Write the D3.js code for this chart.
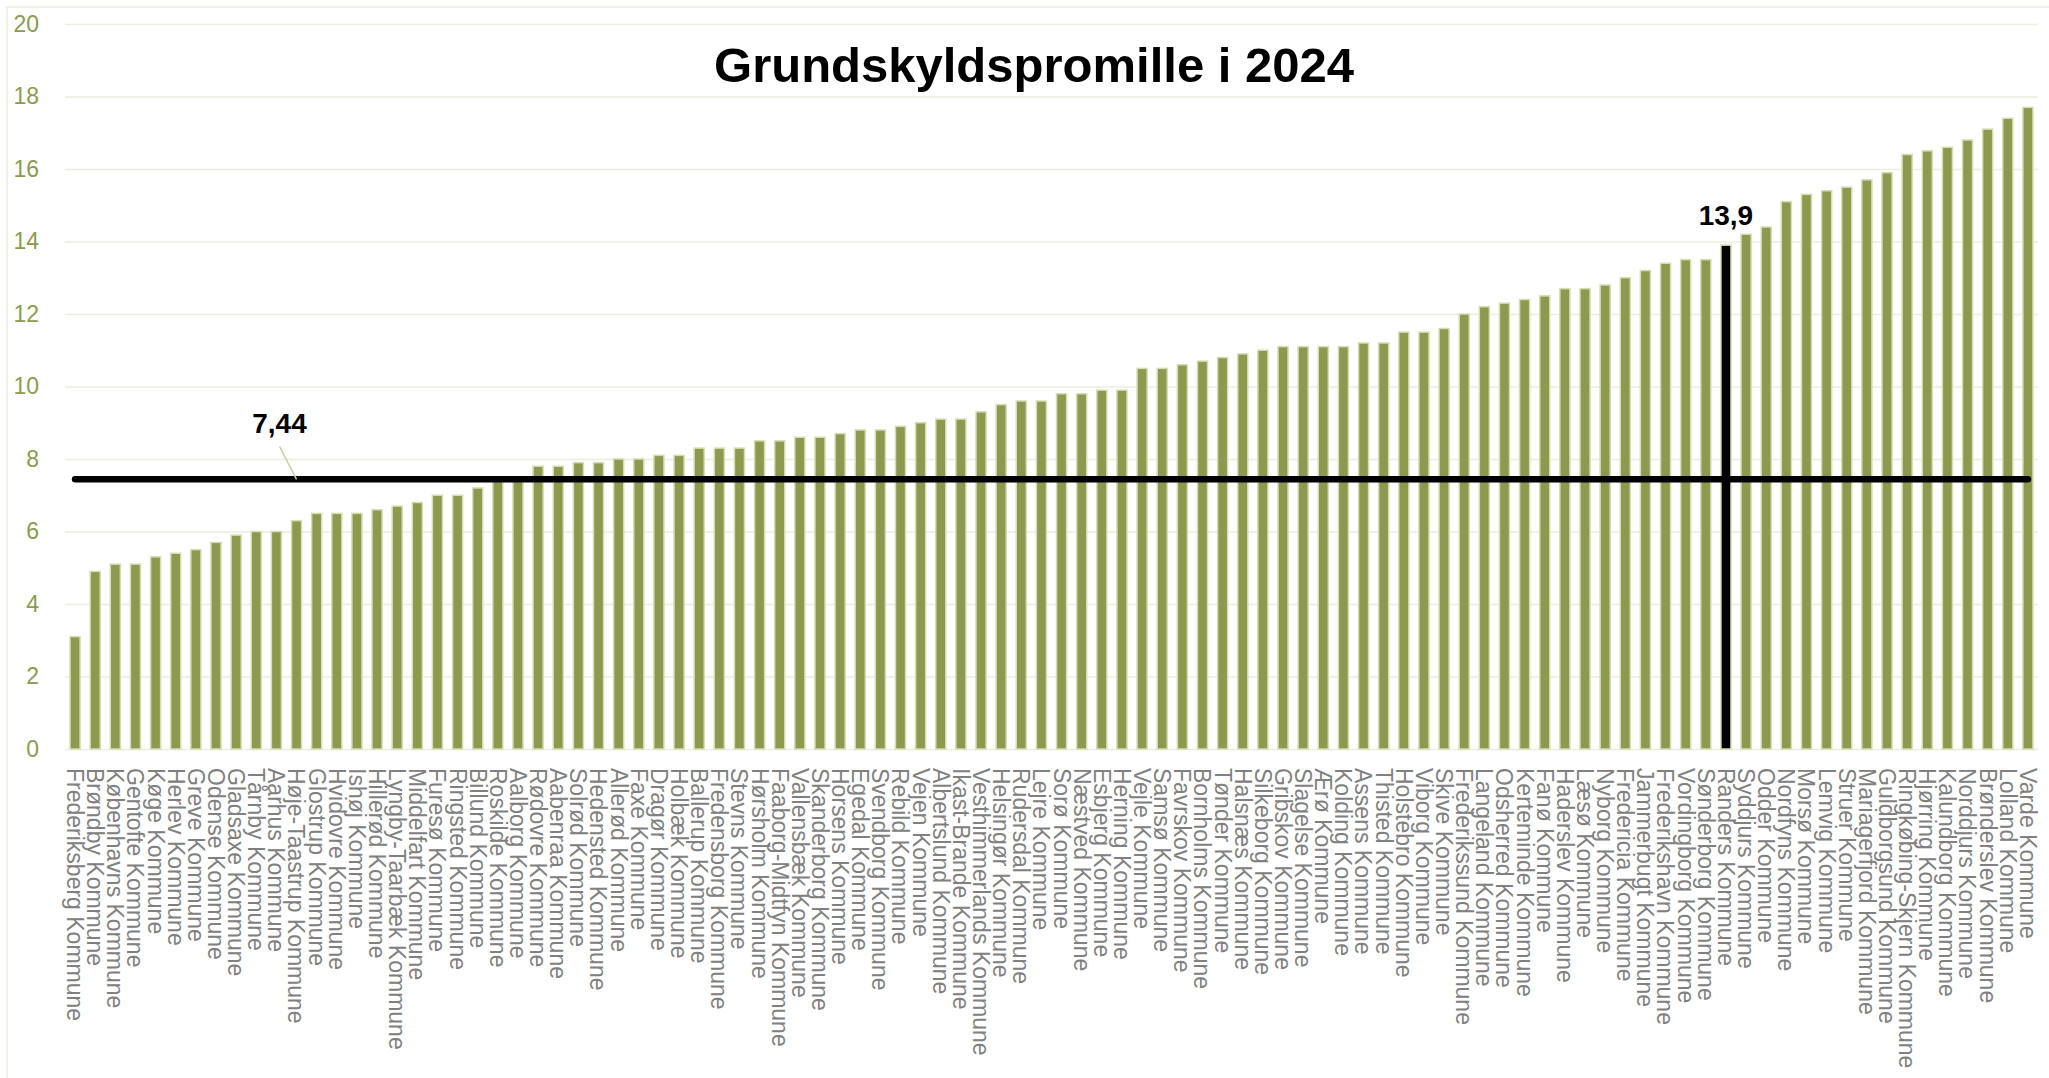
<!DOCTYPE html>
<html>
<head>
<meta charset="utf-8">
<title>Grundskyldspromille i 2024</title>
<script src="https://cdn.jsdelivr.net/npm/d3@7"></script>
<style>
  html, body { margin: 0; padding: 0; background: #fff; }
  svg { display: block; }
</style>
</head>
<body>
<div id="chart"></div>
<script>
// Kommuner, sorteret efter grundskyldspromille
var kommuner = [
  "Frederiksberg Kommune", "Brøndby Kommune", "Københavns Kommune", "Gentofte Kommune",
  "Køge Kommune", "Herlev Kommune", "Greve Kommune", "Odense Kommune", "Gladsaxe Kommune",
  "Tårnby Kommune", "Aarhus Kommune", "Høje-Taastrup Kommune", "Glostrup Kommune",
  "Hvidovre Kommune", "Ishøj Kommune", "Hillerød Kommune", "Lyngby-Taarbæk Kommune",
  "Middelfart Kommune", "Furesø Kommune", "Ringsted Kommune", "Billund Kommune",
  "Roskilde Kommune", "Aalborg Kommune", "Rødovre Kommune", "Aabenraa Kommune",
  "Solrød Kommune", "Hedensted Kommune", "Allerød Kommune", "Faxe Kommune", "Dragør Kommune",
  "Holbæk Kommune", "Ballerup Kommune", "Fredensborg Kommune", "Stevns Kommune",
  "Hørsholm Kommune", "Faaborg-Midtfyn Kommune", "Vallensbæk Kommune", "Skanderborg Kommune",
  "Horsens Kommune", "Egedal Kommune", "Svendborg Kommune", "Rebild Kommune", "Vejen Kommune",
  "Albertslund Kommune", "Ikast-Brande Kommune", "Vesthimmerlands Kommune", "Helsingør Kommune",
  "Rudersdal Kommune", "Lejre Kommune", "Sorø Kommune", "Næstved Kommune", "Esbjerg Kommune",
  "Herning Kommune", "Vejle Kommune", "Samsø Kommune", "Favrskov Kommune", "Bornholms Kommune",
  "Tønder Kommune", "Halsnæs Kommune", "Silkeborg Kommune", "Gribskov Kommune",
  "Slagelse Kommune", "Ærø Kommune", "Kolding Kommune", "Assens Kommune", "Thisted Kommune",
  "Holstebro Kommune", "Viborg Kommune", "Skive Kommune", "Frederikssund Kommune",
  "Langeland Kommune", "Odsherred Kommune", "Kerteminde Kommune", "Fanø Kommune",
  "Haderslev Kommune", "Læsø Kommune", "Nyborg Kommune", "Fredericia Kommune",
  "Jammerbugt Kommune", "Frederikshavn Kommune", "Vordingborg Kommune", "Sønderborg Kommune",
  "Randers Kommune", "Syddjurs Kommune", "Odder Kommune", "Nordfyns Kommune", "Morsø Kommune",
  "Lemvig Kommune", "Struer Kommune", "Mariagerfjord Kommune", "Guldborgsund Kommune",
  "Ringkøbing-Skjern Kommune", "Hjørring Kommune", "Kalundborg Kommune", "Norddjurs Kommune",
  "Brønderslev Kommune", "Lolland Kommune", "Varde Kommune"
];

// Grundskyldspromille 2024 (aflæst)
var promille = [
  3.1, 4.9, 5.1, 5.1, 5.3, 5.4, 5.5, 5.7, 5.9, 6.0, 6.0, 6.3, 6.5, 6.5, 6.5, 6.6, 6.7, 6.8,
  7.0, 7.0, 7.2, 7.4, 7.4, 7.8, 7.8, 7.9, 7.9, 8.0, 8.0, 8.1, 8.1, 8.3, 8.3, 8.3, 8.5, 8.5,
  8.6, 8.6, 8.7, 8.8, 8.8, 8.9, 9.0, 9.1, 9.1, 9.3, 9.5, 9.6, 9.6, 9.8, 9.8, 9.9, 9.9,
  10.5, 10.5, 10.6, 10.7, 10.8, 10.9, 11.0, 11.1, 11.1, 11.1, 11.1, 11.2, 11.2, 11.5, 11.5,
  11.6, 12.0, 12.2, 12.3, 12.4, 12.5, 12.7, 12.7, 12.8, 13.0, 13.2, 13.4, 13.5, 13.5,
  13.9, 14.2, 14.4, 15.1, 15.3, 15.4, 15.5, 15.7, 15.9, 16.4, 16.5, 16.6, 16.8, 17.1,
  17.4, 17.7
];

var gennemsnit = 7.44;
var gennemsnitLabel = "7,44";
var fremhaevet = "Randers Kommune";
var fremhaevetLabel = "13,9";
var yTicks = [0, 2, 4, 6, 8, 10, 12, 14, 16, 18, 20];
var titel = "Grundskyldspromille i 2024";

document.addEventListener("DOMContentLoaded", function() {

var W = 2049, H = 1078;
var margin = {top: 24, right: 11, bottom: 329, left: 65},
    width = W - margin.left - margin.right,
    height = H - margin.top - margin.bottom;

var font = "'Liberation Sans', Arial, sans-serif";

var root = d3.select("#chart")
  .append("svg")
  .attr("width", W)
  .attr("height", H);

// light chart border
root.append("rect")
  .attr("x", 7).attr("y", 7)
  .attr("width", W).attr("height", H)
  .attr("fill", "none")
  .attr("stroke", "#eceedf")
  .attr("stroke-width", 1.5);

var svg = root.append("g")
  .attr("transform", "translate(" + margin.left + "," + margin.top + ")");

var x = d3.scaleBand()
  .domain(kommuner)
  .range([0, width])
  .paddingInner(0.5)
  .paddingOuter(0.25);

var y = d3.scaleLinear()
  .domain([0, 20])
  .range([height, 0]);

// Y axis with gridlines
var yAxis = svg.append("g")
  .call(d3.axisLeft(y).tickValues(yTicks).tickSize(-width).tickPadding(26));
yAxis.select(".domain").remove();
yAxis.selectAll(".tick line")
  .attr("stroke", "#eceedf")
  .attr("stroke-width", 1.5);
yAxis.selectAll(".tick text")
  .attr("fill", "#8c9a4f")
  .style("font-size", "23px")
  .style("font-family", font);

// X axis, rotated labels
var xAxis = svg.append("g")
  .attr("transform", "translate(0," + height + ")")
  .call(d3.axisBottom(x).tickSize(0).tickPadding(0));
xAxis.select(".domain").remove();
xAxis.selectAll(".tick text")
  .attr("x", 0)
  .attr("y", 0)
  .attr("dy", "0.35em")
  .attr("transform", "translate(0,19) rotate(90)")
  .style("text-anchor", "start")
  .attr("fill", "#808080")
  .style("font-size", "23px")
  .style("font-family", font);

// Bars
svg.append("g")
  .selectAll("rect")
  .data(kommuner)
  .enter().append("rect")
    .attr("x", function(d) { return x(d); })
    .attr("y", function(d, i) { return y(promille[i]); })
    .attr("width", x.bandwidth())
    .attr("height", function(d, i) { return height - y(promille[i]); })
    .attr("fill", function(d) { return d === fremhaevet ? "#000000" : "#8c9a50"; })
    .attr("stroke", "#d6dcb4")
    .attr("stroke-width", 1.5);

// Average line
var line = d3.line()
  .x(function(d) { return x(d) + x.bandwidth() / 2; })
  .y(function() { return y(gennemsnit); });

svg.append("path")
  .datum(kommuner)
  .attr("d", line)
  .attr("fill", "none")
  .attr("stroke", "#000")
  .attr("stroke-width", 6.5)
  .attr("stroke-linecap", "round");

// Average label with leader line
var px = x(kommuner[11]) + x.bandwidth() / 2;
var lx = px - 17;
var ly = y(gennemsnit) - 46;
svg.append("line")
  .attr("x1", lx).attr("y1", ly + 13)
  .attr("x2", px).attr("y2", y(gennemsnit))
  .attr("stroke", "#c8cfa2")
  .attr("stroke-width", 1.5);
svg.append("text")
  .attr("x", lx)
  .attr("y", ly)
  .attr("text-anchor", "middle")
  .text(gennemsnitLabel)
  .style("font-size", "28px")
  .style("font-weight", "bold")
  .style("font-family", font);

// Highlighted bar label
var hi = kommuner.indexOf(fremhaevet);
svg.append("text")
  .attr("x", x(fremhaevet) + x.bandwidth() / 2)
  .attr("y", y(promille[hi]) - 20)
  .attr("text-anchor", "middle")
  .text(fremhaevetLabel)
  .style("font-size", "28px")
  .style("font-weight", "bold")
  .style("font-family", font);

// Title
root.append("text")
  .attr("x", 1034)
  .attr("y", 82)
  .attr("text-anchor", "middle")
  .text(titel)
  .style("font-size", "49px")
  .style("font-weight", "bold")
  .style("font-family", font);

});
</script>
</body>
</html>
